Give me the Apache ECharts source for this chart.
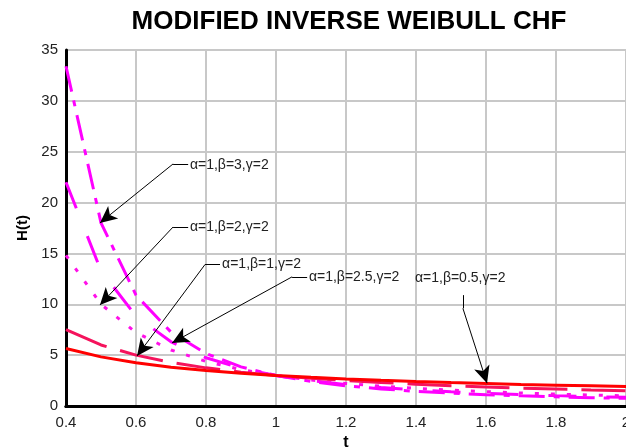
<!DOCTYPE html>
<html>
<head>
<meta charset="utf-8">
<script src="https://cdn.jsdelivr.net/npm/echarts@6/dist/echarts.min.js"></script>
<style>
  html, body { margin: 0; padding: 0; background: #fff; }
  #chart { width: 626px; height: 448px; }
</style>
</head>
<body>
<div id="chart"></div>
<script>
// t values (x axis)
const tValues = [0.4, 0.5, 0.6, 0.7, 0.8, 0.9, 1.0, 1.1, 1.2, 1.3, 1.4, 1.5, 1.6, 1.7, 1.8, 1.9, 2.0];

// H(t), one array per curve (alpha=1, gamma=2)
const hBeta3   = [33.4, 18.0, 10.9, 7.26, 5.16, 3.85, 3.0, 2.41, 1.99, 1.68, 1.44, 1.26, 1.11, 1.0, 0.9, 0.82, 0.75];
const hBeta25  = [22.0, 13.3, 8.84, 6.31, 4.74, 3.71, 3.0, 2.49, 2.1, 1.81, 1.58, 1.39, 1.24, 1.12, 1.02, 0.93, 0.85];
const hBeta2   = [14.8, 10.0, 7.22, 5.51, 4.38, 3.58, 3.0, 2.56, 2.22, 1.95, 1.73, 1.56, 1.41, 1.28, 1.17, 1.08, 1.0];
const hBeta1   = [7.5, 6.0, 5.0, 4.29, 3.75, 3.33, 3.0, 2.73, 2.5, 2.31, 2.14, 2.0, 1.88, 1.76, 1.67, 1.58, 1.5];
const hBeta05  = [5.66, 4.83, 4.25, 3.82, 3.49, 3.22, 3.0, 2.82, 2.66, 2.52, 2.4, 2.3, 2.21, 2.12, 2.05, 1.98, 1.91];

// annotation labels and leader lines, in data units [t, H]
const noteLabels = [
  { text: 'α=1,β=3,γ=2',   at: [0.754, 23.7] },
  { text: 'α=1,β=2,γ=2',   at: [0.754, 17.6] },
  { text: 'α=1,β=1,γ=2',   at: [0.846, 13.9] },
  { text: 'α=1,β=2.5,γ=2', at: [1.094, 12.7] },
  { text: 'α=1,β=0.5,γ=2', at: [1.397, 12.6] }
];
const noteLeaders = [
  [[0.706, 23.8], [0.749, 23.8]],
  [[0.706, 17.6], [0.749, 17.6]],
  [[0.797, 13.9], [0.840, 13.9]],
  [[1.046, 12.7], [1.089, 12.7]],
  [[1.534, 10.9], [1.534, 9.6]]
];
const noteArrows = [
  [[0.706, 23.8], [0.497, 18.0]],
  [[0.706, 17.6], [0.497, 9.93]],
  [[0.797, 13.9], [0.603, 4.92]],
  [[1.046, 12.7], [0.703, 6.2]],
  [[1.534, 9.6], [1.603, 2.24]]
];

const pairs = (ys) => tValues.map((t, i) => [t, ys[i]]);

const curve = (name, ys, color, dash) => ({
  name: name,
  type: 'line',
  data: pairs(ys),
  showSymbol: false,
  silent: true,
  lineStyle: { color: color, width: 3, type: dash, cap: 'butt' },
  itemStyle: { color: color }
});

const font = 'Liberation Sans, Arial, sans-serif';

const chart = echarts.init(document.getElementById('chart'));
const option = {
  animation: false,
  title: {
    text: 'MODIFIED INVERSE WEIBULL CHF',
    left: 344,
    top: 4,
    textAlign: 'center',
    textStyle: { fontFamily: font, fontSize: 26, fontWeight: 'bold', color: '#000' }
  },
  grid: { left: 66, right: 0, top: 50, bottom: 42, outerBoundsMode: 'none', containLabel: false },
  xAxis: [{
    type: 'value',
    min: 0.4,
    max: 2,
    interval: 0.2,
    name: 't',
    nameLocation: 'middle',
    nameGap: 23,
    nameTextStyle: { fontFamily: font, fontSize: 16, fontWeight: 'bold', color: '#000' },
    axisLine: { show: true, onZero: false, lineStyle: { color: '#000', width: 3 } },
    axisTick: { show: false },
    axisLabel: { fontFamily: font, fontSize: 15, color: '#222', margin: 9, hideOverlap: false },
    splitLine: { show: true, lineStyle: { color: '#c8c8c8', width: 2 } }
  }, {
    type: 'value',
    position: 'top',
    min: 0.4,
    max: 2,
    interval: 0.2,
    axisLine: { show: true, lineStyle: { color: '#000', width: 3 } },
    axisTick: { show: false },
    axisLabel: { show: false },
    splitLine: { show: false }
  }],
  yAxis: {
    type: 'value',
    min: 0,
    max: 35,
    interval: 5,
    name: 'H(t)',
    nameLocation: 'middle',
    nameGap: 36,
    nameTextStyle: { fontFamily: font, fontSize: 15, fontWeight: 'bold', color: '#000' },
    axisLine: { show: true, lineStyle: { color: '#000', width: 3 } },
    axisTick: { show: false },
    axisLabel: { fontFamily: font, fontSize: 15, color: '#222', margin: 8 },
    splitLine: { show: true, lineStyle: { color: '#c8c8c8', width: 2 } }
  },
  series: [
    curve('beta=3', hBeta3, '#ff00ff', [26, 9, 6, 9]),
    curve('beta=2.5', hBeta25, '#ff00ff', [28, 30]),
    curve('beta=2', hBeta2, '#ff10e8', [4, 12]),
    curve('beta=1', hBeta1, '#f5135c', [44, 14]),
    curve('beta=0.5', hBeta05, '#ff0000', 'solid'),
    {
      // annotations only
      type: 'line',
      data: [],
      silent: true,
      markLine: {
        silent: true,
        animation: false,
        symbol: ['none', 'none'],
        label: { show: false },
        lineStyle: { color: '#000', width: 1, type: 'solid' },
        emphasis: { disabled: true },
        data: noteLeaders.map(s => [{ coord: s[0] }, { coord: s[1] }])
          .concat(noteArrows.map(s => [
            { coord: s[0], symbol: 'none' },
            { coord: s[1], symbol: 'arrow', symbolSize: [12, 17] }
          ]))
      },
      markPoint: {
        silent: true,
        animation: false,
        symbol: 'circle',
        symbolSize: 0,
        label: {
          show: true,
          position: 'right',
          distance: 0,
          fontFamily: font,
          fontSize: 14,
          color: '#222',
          formatter: p => p.name
        },
        data: noteLabels.map(n => ({ name: n.text, coord: n.at }))
      }
    }
  ]
};
chart.setOption(option);
</script>
</body>
</html>
